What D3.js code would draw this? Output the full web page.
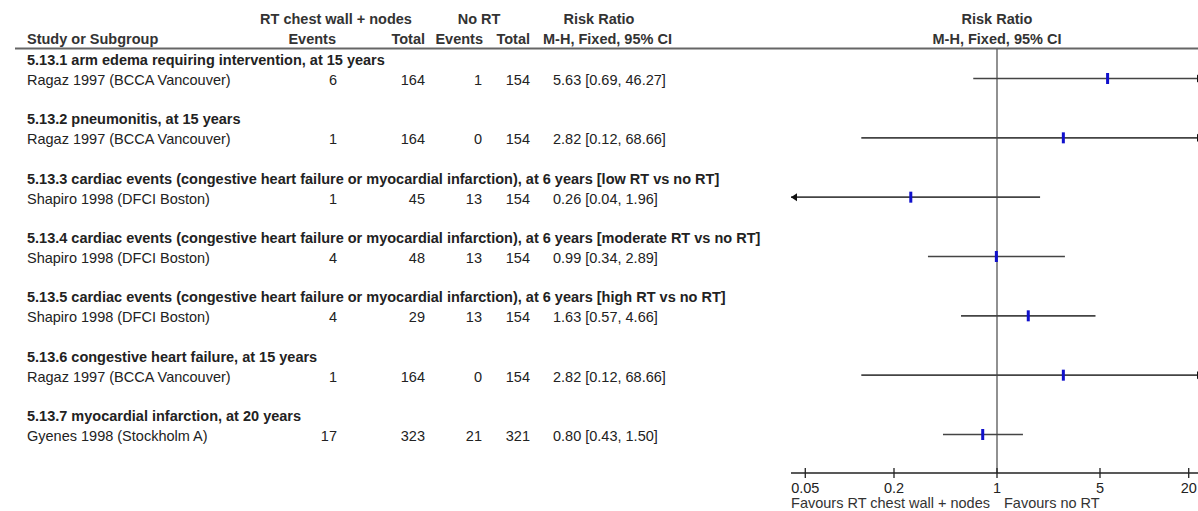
<!DOCTYPE html>
<html lang="en">
<head>
<meta charset="UTF-8"/>
<title>Forest plot</title>
<script src="https://d3js.org/d3.v7.min.js"></script>
<style>
  body { margin: 0; background: #fff; }
  svg text { font-family: Arial, "Liberation Sans", sans-serif; font-size: 14.5px; fill: #222; }
  .hd { font-weight: bold; fill: #333; }
</style>
</head>
<body>
<script>
var w = 1198, h = 511;

var groups = [
  "5.13.1 arm edema requiring intervention, at 15 years",
  "5.13.2 pneumonitis, at 15 years",
  "5.13.3 cardiac events (congestive heart failure or myocardial infarction), at 6 years [low RT vs no RT]",
  "5.13.4 cardiac events (congestive heart failure or myocardial infarction), at 6 years [moderate RT vs no RT]",
  "5.13.5 cardiac events (congestive heart failure or myocardial infarction), at 6 years [high RT vs no RT]",
  "5.13.6 congestive heart failure, at 15 years",
  "5.13.7 myocardial infarction, at 20 years"
];
var studies = ["Ragaz 1997 (BCCA Vancouver)", "Ragaz 1997 (BCCA Vancouver)", "Shapiro 1998 (DFCI Boston)",
  "Shapiro 1998 (DFCI Boston)", "Shapiro 1998 (DFCI Boston)", "Ragaz 1997 (BCCA Vancouver)", "Gyenes 1998 (Stockholm A)"];
var rtEvents = [6, 1, 1, 4, 4, 1, 17];
var rtTotal  = [164, 164, 45, 48, 29, 164, 323];
var noEvents = [1, 0, 13, 13, 13, 0, 21];
var noTotal  = [154, 154, 154, 154, 154, 154, 321];
var rr = [5.63, 2.82, 0.26, 0.99, 1.63, 2.82, 0.80];
var lo = [0.69, 0.12, 0.04, 0.34, 0.57, 0.12, 0.43];
var hi = [46.27, 68.66, 1.96, 2.89, 4.66, 68.66, 1.50];
var tickVals = [0.05, 0.2, 1, 5, 20];

var svg = d3.select("body").append("svg")
  .attr("width", w).attr("height", h);

var x = d3.scaleLog().domain([0.04, 25]).range([791, 1203]);
var y = d3.scaleLinear().domain([0, 6]).range([80, 436]);

function fmt(v) { return v.toFixed(2); }

// header
var hdr = [
  ["RT chest wall + nodes", 336, 24, "middle"], ["No RT", 479, 24, "middle"],
  ["Risk Ratio", 599, 24, "middle"], ["Risk Ratio", 997, 24, "middle"],
  ["Study or Subgroup", 27, 44, "start"], ["Events", 336, 44, "end"], ["Total", 425, 44, "end"],
  ["Events", 483, 44, "end"], ["Total", 530, 44, "end"], ["M-H, Fixed, 95% CI", 543, 44, "start"],
  ["M-H, Fixed, 95% CI", 997, 44, "middle"]
];
svg.selectAll("text.hd").data(hdr).enter().append("text")
  .attr("class", "hd")
  .attr("x", function(d) { return d[1]; })
  .attr("y", function(d) { return d[2]; })
  .attr("text-anchor", function(d) { return d[3]; })
  .text(function(d) { return d[0]; });

svg.append("line").attr("x1", 15).attr("x2", w).attr("y1", 48.5).attr("y2", 48.5)
  .attr("stroke", "#666").attr("stroke-width", 2);

// reference line at 1
svg.append("line").attr("x1", x(1)).attr("x2", x(1)).attr("y1", 49).attr("y2", 473)
  .attr("stroke", "#555").attr("stroke-width", 1.3);

var rows = svg.selectAll("g.row").data(d3.range(groups.length)).enter().append("g").attr("class", "row");

rows.append("text").attr("class", "hd").style("fill", "#222")
  .attr("x", 27).attr("y", function(i) { return y(i) - 15; })
  .text(function(i) { return groups[i]; });

rows.append("text").attr("x", 27).attr("y", function(i) { return y(i) + 5; })
  .text(function(i) { return studies[i]; });
rows.append("text").attr("x", 337).attr("text-anchor", "end").attr("y", function(i) { return y(i) + 5; })
  .text(function(i) { return rtEvents[i]; });
rows.append("text").attr("x", 425).attr("text-anchor", "end").attr("y", function(i) { return y(i) + 5; })
  .text(function(i) { return rtTotal[i]; });
rows.append("text").attr("x", 482).attr("text-anchor", "end").attr("y", function(i) { return y(i) + 5; })
  .text(function(i) { return noEvents[i]; });
rows.append("text").attr("x", 530).attr("text-anchor", "end").attr("y", function(i) { return y(i) + 5; })
  .text(function(i) { return noTotal[i]; });
rows.append("text").attr("x", 553).attr("y", function(i) { return y(i) + 5; })
  .text(function(i) { return fmt(rr[i]) + " [" + fmt(lo[i]) + ", " + fmt(hi[i]) + "]"; });

// CI lines
var xmin = x.range()[0], xmax = x.range()[1];
rows.append("line")
  .attr("x1", function(i) { return Math.max(xmin, x(lo[i])); })
  .attr("x2", function(i) { return Math.min(xmax, x(hi[i])); })
  .attr("y1", function(i) { return y(i) - 1.5; })
  .attr("y2", function(i) { return y(i) - 1.5; })
  .attr("stroke", "#444").attr("stroke-width", 1.6);

// arrows where CI runs off the scale
rows.filter(function(i) { return x(lo[i]) <= xmin + 0.5; }).append("path")
  .attr("d", function(i) { var yy = y(i) - 1.5; return "M" + xmin + "," + yy + "l6,-4v8z"; })
  .attr("fill", "#111");
rows.filter(function(i) { return x(hi[i]) >= xmax - 0.5; }).append("path")
  .attr("d", function(i) { var yy = y(i) - 1.5; return "M" + xmax + "," + yy + "l-6,-4v8z"; })
  .attr("fill", "#111");

// point estimates
rows.append("rect")
  .attr("x", function(i) { return x(rr[i]) - 1.5; })
  .attr("y", function(i) { return y(i) - 7; })
  .attr("width", 3).attr("height", 11)
  .attr("fill", "#1010cc");

// axis
var ay = 473;
svg.append("line").attr("x1", xmin).attr("x2", w).attr("y1", ay).attr("y2", ay)
  .attr("stroke", "#222").attr("stroke-width", 1.3);
svg.selectAll("line.tk").data(tickVals).enter().append("line").attr("class", "tk")
  .attr("x1", function(d) { return x(d); }).attr("x2", function(d) { return x(d); })
  .attr("y1", ay - 5).attr("y2", ay + 5)
  .attr("stroke", "#222").attr("stroke-width", 1.3);
svg.selectAll("text.tl").data(tickVals).enter().append("text").attr("class", "tl")
  .attr("x", function(d) { return x(d); }).attr("y", 493)
  .attr("text-anchor", "middle")
  .text(function(d) { return d; });

svg.append("text").attr("x", 990).attr("y", 508).attr("text-anchor", "end")
  .style("fill", "#333").text("Favours RT chest wall + nodes");
svg.append("text").attr("x", 1004).attr("y", 508)
  .style("fill", "#333").text("Favours no RT");
</script>
</body>
</html>
